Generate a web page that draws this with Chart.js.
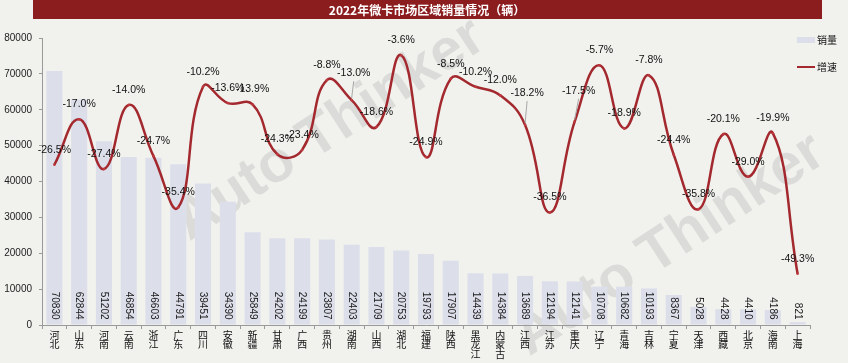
<!DOCTYPE html>
<html>
<head>
<meta charset="utf-8">
<script src="https://cdn.jsdelivr.net/npm/chart.js@4/dist/chart.umd.min.js"></script>
<style>
html,body{margin:0;padding:0;background:#f1f2ee;}
#wrap{width:848px;height:363px;position:relative;}
</style>
</head>
<body>
<div id="wrap"><canvas id="c" width="848" height="363"></canvas></div>
<script>
const chartTitle = '2022年微卡市场区域销量情况（辆）';
const categories = ['河北','山东','河南','云南','浙江','广东','四川','安徽','新疆','甘肃','广西','贵州','湖南','山西','湖北','福建','陕西','黑龙江','内蒙古','江西','江苏','重庆','辽宁','青海','吉林','宁夏','天津','西藏','北京','海南','上海'];
const salesValues = [70830,62844,51202,46854,46603,44791,39451,34390,25849,24202,24199,23807,22403,21709,20753,19793,17907,14439,14384,13689,12194,12141,10708,10682,10193,8367,5028,4428,4410,4186,821];
const growthValues = [-26.5,-17.0,-27.4,-14.0,-24.7,-35.4,-10.2,-13.6,-13.9,-24.3,-23.4,-8.8,-13.0,-18.6,-3.6,-24.9,-8.5,-10.2,-12.0,-18.2,-36.5,-17.5,-5.7,-18.9,-7.8,-24.4,-35.8,-20.1,-29.0,-19.9,-49.3];
const seriesNames = ['销量','增速'];

const BAR_COLOR = '#dcdfea';
const LINE_COLOR = '#a3292f';
const NUM_FONT = '"Liberation Sans", Arial, sans-serif';
const CJK_FONT = '"Noto Sans CJK SC", sans-serif';
// extra offset (px) for a few growth labels that use leader lines
const labelLift = {12: [2, 27], 19: [2, 32], 21: [4, 31]};

function watermark(ctx, x, y) {
  ctx.save();
  ctx.fillStyle = 'rgba(160,160,160,0.26)';
  ctx.font = 'bold 58px ' + NUM_FONT;
  ctx.textAlign = 'center';
  ctx.textBaseline = 'middle';
  ctx.translate(x, y);
  ctx.rotate(-0.58);
  ctx.fillText('Auto Thinker', 0, 0);
  ctx.restore();
}

const decor = {
  id: 'decor',
  beforeDraw(chart) {
    const ctx = chart.ctx;
    ctx.save();
    ctx.fillStyle = '#f1f2ee';
    ctx.fillRect(0, 0, chart.width, chart.height);
    ctx.fillStyle = '#8b1d1f';
    ctx.fillRect(33, 0, 789, 19);
    ctx.fillStyle = '#ffffff';
    ctx.font = 'bold 12px ' + CJK_FONT;
    ctx.textAlign = 'center';
    ctx.textBaseline = 'middle';
    ctx.fillText(chartTitle, 427, 10);
    ctx.restore();
    watermark(ctx, 330, 130);
    watermark(ctx, 670, 245);
  },
  afterDatasetsDraw(chart) {
    const ctx = chart.ctx;
    ctx.save();
    // bar value labels (rotated)
    const barMeta = chart.getDatasetMeta(0);
    ctx.fillStyle = '#1a1a1a';
    ctx.font = '10px ' + NUM_FONT;
    barMeta.data.forEach((bar, i) => {
      ctx.save();
      ctx.translate(bar.x, bar.base - 5);
      ctx.rotate(Math.PI / 2);
      ctx.textAlign = 'right';
      ctx.textBaseline = 'middle';
      ctx.fillText(String(salesValues[i]), 0, 0);
      ctx.restore();
    });
    // growth labels
    const lineMeta = chart.getDatasetMeta(1);
    ctx.font = '10.5px ' + NUM_FONT;
    ctx.textAlign = 'center';
    ctx.textBaseline = 'middle';
    lineMeta.data.forEach((pt, i) => {
      let dx = 0, dy = 15;
      if (labelLift[i]) {
        dx = labelLift[i][0]; dy = labelLift[i][1];
        ctx.strokeStyle = '#a8a8a8';
        ctx.lineWidth = 1;
        ctx.beginPath();
        ctx.moveTo(pt.x + dx, pt.y - dy + 8);
        ctx.lineTo(pt.x, pt.y - 2);
        ctx.stroke();
      }
      ctx.fillStyle = '#111';
      ctx.fillText(growthValues[i].toFixed(1) + '%', pt.x + dx, pt.y - dy);
    });
    // legend
    ctx.fillStyle = BAR_COLOR;
    ctx.fillRect(797, 37, 18, 6);
    ctx.fillStyle = '#111';
    ctx.font = '10px ' + CJK_FONT;
    ctx.textAlign = 'left';
    ctx.fillText(seriesNames[0], 817, 40);
    ctx.strokeStyle = LINE_COLOR;
    ctx.lineWidth = 2;
    ctx.beginPath();
    ctx.moveTo(797, 67); ctx.lineTo(815, 67); ctx.stroke();
    ctx.fillStyle = '#111';
    ctx.fillText(seriesNames[1], 817, 67);
    ctx.restore();
  }
};

new Chart(document.getElementById('c'), {
  type: 'bar',
  data: {
    labels: categories.map(c => c.split('')),
    datasets: [
      {type: 'bar', label: seriesNames[0], data: salesValues, backgroundColor: BAR_COLOR,
       barPercentage: 0.65, categoryPercentage: 1, yAxisID: 'y', order: 2},
      {type: 'line', label: seriesNames[1], data: growthValues, borderColor: LINE_COLOR,
       backgroundColor: LINE_COLOR, borderWidth: 2.5, tension: 0.45, pointRadius: 1.3,
       pointBorderWidth: 0, pointBackgroundColor: '#c0393f', yAxisID: 'y1', order: 1}
    ]
  },
  options: {
    responsive: false,
    animation: false,
    devicePixelRatio: 1,
    layout: {padding: {top: 38, right: 38, left: 0, bottom: 0}},
    plugins: {legend: {display: false}, tooltip: {enabled: false}, title: {display: false}},
    scales: {
      x: {
        offset: true,
        grid: {display: true, drawOnChartArea: false, offset: true, tickLength: 4, color: '#9a9a9a'},
        border: {color: '#9a9a9a'},
        ticks: {maxRotation: 0, minRotation: 0, autoSkip: false, padding: 1, color: '#111',
                font: {size: 10, family: CJK_FONT, lineHeight: 0.95}},
        afterFit(s) { s.height = 38; }
      },
      y: {
        min: 0, max: 80000,
        grid: {display: true, drawOnChartArea: false, tickLength: 3, color: '#9a9a9a'},
        border: {color: '#9a9a9a'},
        ticks: {stepSize: 10000, padding: 7, color: '#222', font: {size: 10, family: NUM_FONT},
                callback: v => String(v)},
        afterFit(s) { s.width = 42; }
      },
      y1: {display: false, min: -60, max: 0}
    }
  },
  plugins: [decor]
});
</script>
</body>
</html>
